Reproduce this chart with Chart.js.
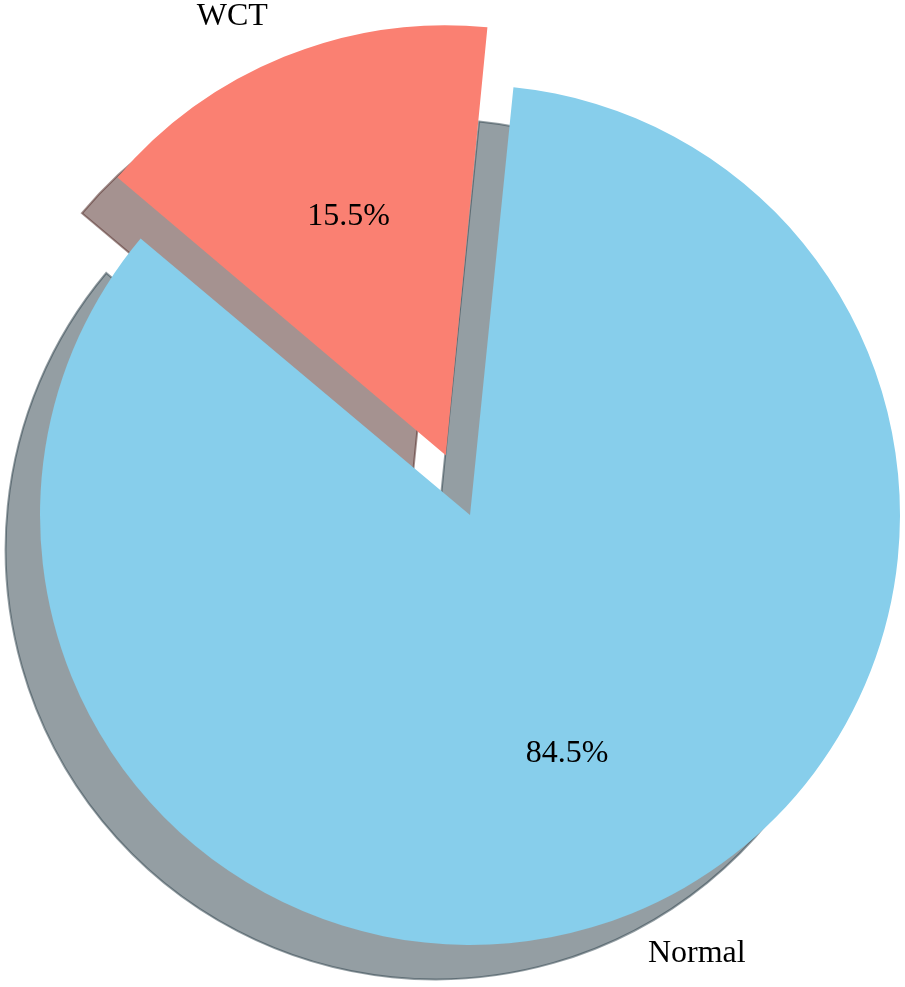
<!DOCTYPE html>
<html>
<head>
<meta charset="utf-8">
<script src="https://cdn.jsdelivr.net/npm/chart.js@4"></script>
<style>
  html, body { margin: 0; padding: 0; background: #fff; }
  canvas { display: block; }
</style>
</head>
<body>
<canvas id="myChart" width="905" height="987"></canvas>
<script>
const labels = ["Normal", "WCT"];
const shares = [84.5, 15.5];
const colors = ["#87CEEB", "#FA8072"];
const explode = [0, 0.15]; // fraction of radius, like matplotlib

const R = 430;
const FONT = '32px "Liberation Serif", "Times New Roman", serif';

// matplotlib style shadow: 0.3 * face colour at 50% alpha, offset left/down
function shadowColor(hex) {
  const n = parseInt(hex.slice(1), 16);
  const r = Math.round(((n >> 16) & 255) * 0.3);
  const g = Math.round(((n >> 8) & 255) * 0.3);
  const b = Math.round((n & 255) * 0.3);
  return `rgba(${r}, ${g}, ${b}, 0.5)`;
}

function shift(arc) {
  return (arc.options.offset || 0) / 4;
}

// radius actually painted by chart.js once an offset is set
function visibleRadius(arc) {
  return arc.outerRadius + shift(arc) * (1 - Math.sin(Math.min(Math.PI, arc.circumference)));
}

const pieExtras = {
  id: "pieExtras",
  afterDatasetUpdate(chart, args) {
    // keep exploded wedges at the same radius as the rest
    args.meta.data.forEach((arc) => {
      const off = shift(arc);
      if (off) arc.outerRadius -= off * (1 - Math.sin(Math.min(Math.PI, arc.circumference)));
    });
  },
  beforeDatasetsDraw(chart) {
    const ctx = chart.ctx;
    const meta = chart.getDatasetMeta(0);
    meta.data.forEach((arc, i) => {
      const r = visibleRadius(arc);
      const mid = (arc.startAngle + arc.endAngle) / 2;
      const cx = arc.x + Math.cos(mid) * shift(arc) - 0.08 * r;
      const cy = arc.y + Math.sin(mid) * shift(arc) + 0.08 * r;
      ctx.save();
      ctx.beginPath();
      ctx.moveTo(cx, cy);
      ctx.arc(cx, cy, r, arc.startAngle, arc.endAngle);
      ctx.closePath();
      ctx.fillStyle = shadowColor(colors[i]);
      ctx.strokeStyle = shadowColor(colors[i]);
      ctx.lineWidth = 2;
      ctx.fill();
      ctx.stroke();
      ctx.restore();
    });
  },
  afterDatasetsDraw(chart) {
    const ctx = chart.ctx;
    const meta = chart.getDatasetMeta(0);
    ctx.save();
    ctx.font = FONT;
    ctx.fillStyle = "#000";
    ctx.textBaseline = "middle";
    meta.data.forEach((arc, i) => {
      const r = visibleRadius(arc);
      const mid = (arc.startAngle + arc.endAngle) / 2;
      const cx = arc.x + Math.cos(mid) * shift(arc);
      const cy = arc.y + Math.sin(mid) * shift(arc);
      ctx.textAlign = "center";
      ctx.fillText(shares[i].toFixed(1) + "%", cx + Math.cos(mid) * 0.6 * r, cy + Math.sin(mid) * 0.6 * r);
      const lx = cx + Math.cos(mid) * 1.1 * r;
      ctx.textAlign = Math.cos(mid) < 0 ? "right" : "left";
      ctx.fillText(labels[i], lx, cy + Math.sin(mid) * 1.1 * r);
    });
    ctx.restore();
  },
};

const ctx = document.getElementById("myChart");

const myChart = new Chart(ctx, {
  type: "pie",
  data: {
    labels: labels,
    datasets: [
      {
        data: shares,
        backgroundColor: colors,
        borderWidth: 0,
        offset: explode.map((e) => e * R * 4),
        hoverOffset: 0,
      },
    ],
  },
  options: {
    responsive: false,
    animation: false,
    radius: R,
    rotation: 5.8,
    layout: {
      padding: { left: 35, top: 43, right: 0, bottom: 0 },
    },
    plugins: {
      legend: { display: false },
      tooltip: { enabled: false },
    },
    events: [],
  },
  plugins: [pieExtras],
});
</script>
</body>
</html>
